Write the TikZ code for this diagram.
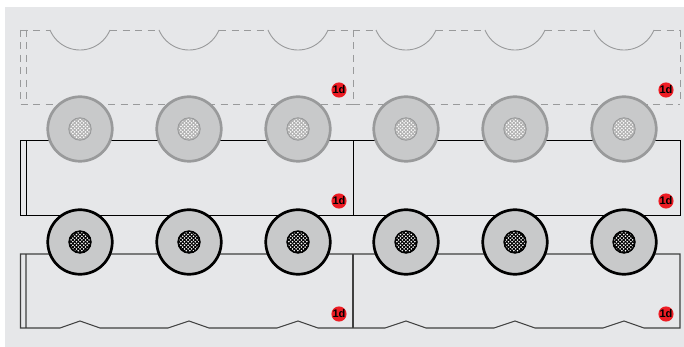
\documentclass[tikz,border=0pt]{standalone}
\usepackage{fontspec}
\setsansfont{Liberation Sans}
\usetikzlibrary{patterns}
\pgfdeclarepatternformonly{coredots}{\pgfqpoint{-1pt}{-1pt}}{\pgfqpoint{5pt}{5pt}}{\pgfqpoint{3.6pt}{3.6pt}}{
  \pgfpathcircle{\pgfqpoint{0.9pt}{0.9pt}}{0.88pt}
  \pgfpathcircle{\pgfqpoint{2.7pt}{2.7pt}}{0.88pt}
  \pgfusepath{fill}
}
\definecolor{panelbg}{HTML}{E6E7E9}
\definecolor{discfill}{HTML}{C8C9CA}
\definecolor{fadeline}{HTML}{999A9B}
\definecolor{badgered}{HTML}{ED1C24}
\tikzset{
  x=1pt,y=-1pt,
  fadeedge/.style={draw=fadeline,line width=0.95pt,dash pattern=on 7pt off 5.5pt},
  fadearc/.style={draw=fadeline,line width=0.9pt},
  blackedge/.style={draw=black,line width=1pt},
  softedge/.style={draw=black!75,line width=1.05pt},
  fadedisc/.style={circle,draw=fadeline,fill=discfill,line width=2.7pt,minimum size=64.5pt,inner sep=0pt},
  blackdisc/.style={circle,draw=black,fill=discfill,line width=2.7pt,minimum size=64.5pt,inner sep=0pt},
  fadecore/.style={circle,draw=fadeline,line width=0.8pt,fill=gray!60,minimum size=22.5pt,inner sep=0pt},
  blackcore/.style={circle,draw=black,line width=0.8pt,fill=black,minimum size=22.5pt,inner sep=0pt},
  badge/.style={circle,fill=badgered,minimum size=15pt,inner sep=0pt,font=\sffamily\bfseries\fontsize{11}{11}\selectfont}
}
\begin{document}
\begin{tikzpicture}
  \useasboundingbox (0,0) rectangle (684,347);
  \fill[white] (0,0) rectangle (684,347);
  \fill[panelbg] (5,7) rectangle (684,347);
  % top row
  \draw[fadeedge] (20.5,30) -- (20.5,104);
  \draw[fadeedge] (26,30) -- (26,104);
  \draw[fadeedge] (20.5,104) -- (353,104);
  \draw[fadeedge] (353,104) -- (680,104);
  \draw[fadeedge] (353,30) -- (353,104);
  \draw[fadeedge] (680,30) -- (680,104);
  \draw[fadeedge] (20.5,30) -- (50,30);
  \draw[fadeedge] (110,30) -- (158,30);
  \draw[fadeedge] (219,30) -- (267,30);
  \draw[fadeedge] (328,30) -- (376,30);
  \draw[fadeedge] (436,30) -- (485,30);
  \draw[fadeedge] (545,30) -- (594,30);
  \draw[fadeedge] (654,30) -- (680,30);
  \foreach \cx in {80,189,298,406,515,624}
    \draw[fadearc] (\cx-30,30) arc (157.4:22.6:32.5);
  % middle row
  \draw[blackedge] (20.5,141) rectangle (680,215);
  \draw[blackedge] (26,141) -- (26,215);
  \draw[blackedge] (353,141) -- (353,215);
  % bottom row
  \draw[softedge] (26,254) -- (20.5,254) -- (20.5,328) -- (60,328) -- (80,321) -- (100,328)
    -- (168,328) -- (189,321) -- (209,328) -- (277,328) -- (298,321) -- (318,328)
    -- (385,328) -- (406,321) -- (426,328) -- (494,328) -- (515,321) -- (535,328)
    -- (603,328) -- (624,321) -- (644,328) -- (680,328) -- (680,254) -- (26,254) -- (26,328);
  \draw[softedge] (353,254) -- (353,328);
  % discs
  \foreach \cx/\dname in {80/a,189/b,298/c,406/d,515/e,624/f} {
    \node[fadedisc] (up\dname) at (\cx,129) {};
    \node[fadecore] (upcore\dname) at (up\dname) {};
    \fill[pattern=coredots,pattern color=white] (upcore\dname) circle (10pt);
    \node[blackdisc] (low\dname) at (\cx,242) {};
    \node[blackcore] (lowcore\dname) at (low\dname) {};
    \fill[pattern=coredots,pattern color=white] (lowcore\dname) circle (10pt);
  }
  % badges
  \foreach \bx/\by/\bname in {339/90/p,666/90/q,339/201/r,666/201/s,339/314/t,666/314/u}
    \node[badge] (badge\bname) at (\bx,\by) {1d};
\end{tikzpicture}
\end{document}
